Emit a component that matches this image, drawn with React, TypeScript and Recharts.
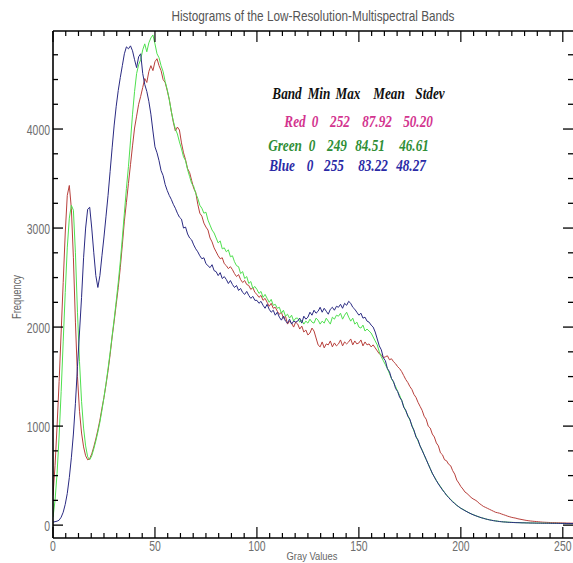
import React from 'react';
import { LineChart, Line, XAxis, YAxis } from 'recharts';

// Gray levels 0..255 (one histogram bin per level)
const grayLevels: number[] = Array.from({ length: 256 }, (_, i) => i);

// Pixel counts per gray level for each band
const redCounts = [
  300, 600, 1000, 1450, 1950, 2450, 2950, 3330, 3430, 3200, 2700, 2050, 1500, 1150, 930, 790, 700, 660, 670, 720,
  790, 870, 960, 1060, 1180, 1290, 1420, 1560, 1720, 1900, 2060, 2230, 2400, 2600, 2830, 3070, 3260, 3450, 3640, 3830,
  4010, 4130, 4250, 4330, 4420, 4510, 4470, 4580, 4640, 4590, 4680, 4710, 4640, 4590, 4500, 4470, 4390, 4300, 4180, 4070,
  3980, 4020, 3990, 3860, 3760, 3690, 3600, 3560, 3480, 3400, 3360, 3240, 3150, 3120, 3050, 3010, 2980, 2900, 2860, 2800,
  2760, 2720, 2690, 2700, 2640, 2620, 2590, 2610, 2580, 2540, 2510, 2530, 2480, 2450, 2470, 2430, 2420, 2380, 2400, 2350,
  2330, 2300, 2320, 2270, 2290, 2250, 2210, 2240, 2190, 2200, 2160, 2130, 2150, 2090, 2110, 2030, 2060, 2040, 2000, 2050,
  2030, 1980, 2010, 1950, 1970, 1920, 1940, 1990, 1960, 1890, 1820, 1800, 1850, 1790, 1830, 1820, 1860, 1800, 1840, 1810,
  1830, 1870, 1810, 1850, 1830, 1850, 1880, 1820, 1860, 1830, 1840, 1870, 1810, 1850, 1820, 1830, 1800, 1820, 1790, 1760,
  1730, 1720, 1690, 1700, 1710, 1670, 1680, 1650, 1630, 1600, 1580, 1550, 1510, 1470, 1440, 1400, 1370, 1320, 1290, 1240,
  1200, 1160, 1100, 1070, 1000, 980, 920, 890, 830, 800, 730, 710, 660, 650, 615, 600, 550, 515, 455, 425,
  390, 365, 335, 320, 300, 280, 265, 254, 240, 220, 205, 190, 180, 170, 160, 150, 140, 130, 125, 120,
  112, 105, 98, 90, 84, 78, 74, 70, 64, 60, 56, 52, 48, 45, 42, 40, 38, 36, 34, 32,
  30, 29, 28, 27, 26, 25, 25, 24, 24, 23, 22, 22, 21, 21, 20, 20,
];

const greenCounts = [
  80, 250, 520, 900, 1350, 1850, 2350, 2800, 3100, 3230, 3180, 2750, 2150, 1650, 1250, 980, 800, 690, 660, 700,
  770, 850, 940, 1040, 1160, 1290, 1430, 1580, 1740, 1910, 2080, 2260, 2450, 2660, 2900, 3150, 3400, 3620, 3880, 4150,
  4380, 4560, 4650, 4700, 4800, 4860, 4780, 4870, 4920, 4950, 4860, 4760, 4720, 4640, 4580, 4480, 4400, 4300, 4180, 4080,
  4000, 3950, 3870, 3800, 3720, 3680, 3590, 3520, 3450, 3420, 3350, 3300, 3230, 3200, 3150, 3160, 3080, 3030, 2980, 2950,
  2900, 2850, 2870, 2790, 2800, 2760, 2780, 2710, 2720, 2660, 2620, 2610, 2540, 2560, 2490, 2510, 2440, 2460, 2390, 2410,
  2380, 2340, 2360, 2300, 2330, 2290, 2250, 2280, 2220, 2230, 2190, 2200, 2140, 2170, 2110, 2130, 2090, 2120, 2060, 2090,
  2090, 2050, 2070, 2030, 2060, 2040, 2080, 2050, 2040, 2090, 2070, 2030, 2060, 2040, 2090, 2060, 2030, 2100, 2080, 2120,
  2110, 2140, 2080, 2120, 2150, 2100, 2060, 2090, 2030, 2050, 2000, 1990, 2020, 1960, 1980, 1960, 1940, 1900, 1860, 1820,
  1750, 1700, 1660, 1620, 1580, 1530, 1480, 1440, 1400, 1350, 1310, 1260, 1200, 1150, 1110, 1060, 1010, 950, 900, 850,
  800, 760, 710, 660, 620, 570, 520, 490, 450, 420, 390, 360, 330, 305, 280, 260, 240, 220, 200, 185,
  170, 160, 148, 136, 125, 115, 106, 98, 90, 82, 75, 70, 64, 58, 54, 50, 46, 43, 40, 37,
  35, 33, 32, 30, 29, 28, 27, 26, 25, 25, 24, 24, 23, 23, 22, 22, 21, 21, 21, 20,
  20, 20, 19, 19, 19, 18, 18, 18, 18, 17, 17, 17, 16, 16, 16, 15,
];

const blueCounts = [
  30, 35, 40, 50, 80, 130, 210, 320, 480, 680, 920, 1230, 1600, 1950, 2300, 2700, 3000, 3190, 3210, 3000,
  2750, 2520, 2400, 2520, 2720, 2910, 3120, 3330, 3570, 3810, 4040, 4230, 4390, 4520, 4640, 4760, 4830, 4810, 4840, 4790,
  4700, 4620, 4730, 4760, 4560, 4450, 4380, 4280, 4150, 3980, 3820, 3760, 3680, 3580, 3530, 3440, 3380, 3330, 3290, 3240,
  3200, 3150, 3110, 3090, 3000, 3010, 2940, 2900, 2880, 2830, 2790, 2760, 2720, 2690, 2700, 2640, 2620, 2600, 2630, 2570,
  2560, 2520, 2550, 2490, 2510, 2480, 2440, 2470, 2430, 2400, 2420, 2370, 2390, 2350, 2330, 2360, 2320, 2290, 2310, 2270,
  2270, 2240, 2260, 2220, 2190, 2230, 2180, 2150, 2170, 2120, 2150, 2100, 2070, 2110, 2060, 2040, 2080, 2030, 2060, 2050,
  2060, 2090, 2040, 2110, 2080, 2100, 2150, 2120, 2170, 2140, 2160, 2200, 2150, 2190, 2160, 2130, 2180, 2200, 2170, 2210,
  2200, 2230, 2190, 2240, 2220, 2260, 2240, 2200, 2180, 2150, 2120, 2140, 2090, 2100, 2060, 2050, 2020, 2000, 1950, 1880,
  1810, 1770, 1690, 1660, 1580, 1550, 1480, 1450, 1380, 1350, 1290, 1260, 1190, 1160, 1100, 1070, 1000, 960, 890, 860,
  800, 755, 710, 665, 615, 570, 525, 485, 450, 415, 385, 355, 330, 300, 280, 255, 235, 218, 200, 185,
  170, 158, 146, 135, 124, 114, 105, 97, 89, 82, 75, 69, 63, 58, 53, 49, 45, 42, 39, 36,
  34, 32, 31, 29, 28, 27, 26, 25, 25, 24, 23, 23, 22, 22, 21, 21, 21, 20, 20, 20,
  19, 19, 19, 19, 18, 18, 18, 18, 17, 17, 17, 17, 16, 16, 16, 16,
];

// Axis ticks
const xMajorTicks = [0, 50, 100, 150, 200, 250];
const yMajorTicks = [0, 1000, 2000, 3000, 4000, 5000];
const yLabelledTicks = [0, 1000, 2000, 3000, 4000];
const xMinorDivisions = 8;
const yMinorDivisions = 4;

// Band statistics table
const statHeaders = ['Band', 'Min', 'Max', 'Mean', 'Stdev'];
const statBands = ['Red', 'Green', 'Blue'];
const statMin = ['0', '0', '0'];
const statMax = ['252', '249', '255'];
const statMean = ['87.92', '84.51', '83.22'];
const statStdev = ['50.20', '46.61', '48.27'];

const X_DOMAIN: [number, number] = [0, 255];
const Y_DOMAIN: [number, number] = [-130, 4990];

function subdivide(majors: number[], parts: number, max: number): number[] {
  const out: number[] = [];
  for (let i = 0; i < majors.length - 1; i++) {
    const step = (majors[i + 1] - majors[i]) / parts;
    for (let k = 0; k < parts; k++) out.push(majors[i] + k * step);
  }
  const last = majors[majors.length - 1];
  if (last <= max) out.push(last);
  return out.filter((v) => v <= max);
}

const xTicks = subdivide(xMajorTicks, xMinorDivisions, 255);
const yTicks = subdivide(yMajorTicks, yMinorDivisions, 4990);

const rows = grayLevels.map((g, i) => ({
  gray: g,
  red: redCounts[i],
  green: greenCounts[i],
  blue: blueCounts[i],
}));

const AXIS_COLOR = '#000';
const LABEL_COLOR = '#6e6e6e';
const SANS = '"Liberation Sans", Arial, sans-serif';
const SERIF = '"Liberation Serif", "Times New Roman", serif';

const isMajorX = (v: number) => xMajorTicks.includes(v);
const isMajorY = (v: number) => yMajorTicks.includes(v);

// Tall, narrow digits in the style of a vector plotting font
function TickText({ x, y, anchor, children }: any) {
  return (
    <text
      transform={`translate(${x},${y}) scale(0.72,1)`}
      textAnchor={anchor}
      fontFamily={SANS}
      fontSize={14.5}
      fill={LABEL_COLOR}
    >
      {children}
    </text>
  );
}

const BottomTick = (props: any) => {
  const { x, y, payload } = props;
  const v = payload.value;
  const major = isMajorX(v);
  return (
    <g>
      <line x1={x} x2={x} y1={y} y2={y - (major ? 11 : 5)} stroke={AXIS_COLOR} strokeWidth={1.2} />
      {major && (
        <TickText x={x} y={y + 13} anchor="middle">
          {v}
        </TickText>
      )}
    </g>
  );
};

const TopTick = (props: any) => {
  const { x, y, payload } = props;
  const major = isMajorX(payload.value);
  return <line x1={x} x2={x} y1={y} y2={y + (major ? 11 : 5)} stroke={AXIS_COLOR} strokeWidth={1.2} />;
};

const LeftTick = (props: any) => {
  const { x, y, payload } = props;
  const v = payload.value;
  const major = isMajorY(v);
  return (
    <g>
      <line x1={x} x2={x + (major ? 10 : 5)} y1={y} y2={y} stroke={AXIS_COLOR} strokeWidth={1.3} />
      {yLabelledTicks.includes(v) && (
        <TickText x={x - 3} y={y + 5.5} anchor="end">
          {v}
        </TickText>
      )}
    </g>
  );
};

const RightTick = (props: any) => {
  const { x, y, payload } = props;
  const major = isMajorY(payload.value);
  return <line x1={x} x2={x - (major ? 10 : 5)} y1={y} y2={y} stroke={AXIS_COLOR} strokeWidth={1.3} />;
};

// Per-row layout of the statistics table
const headerX = [287, 319, 348, 389, 430];
const headerY = 99;
const rowY = [127, 151, 171];
const bandLabelX = [295, 285, 282];
const valueX = [
  [315, 340, 377, 418],
  [312, 337, 370, 414],
  [310, 334, 373, 411],
];
const rowColors = ['#d3348f', '#2f8e36', '#2a2aa6'];

function TableText({ x, y, fill, children }: any) {
  return (
    <text
      transform={`translate(${x},${y}) scale(0.8,1)`}
      textAnchor="middle"
      fontFamily={SERIF}
      fontWeight="bold"
      fontStyle="italic"
      fontSize={16.5}
      fill={fill}
    >
      {children}
    </text>
  );
}

export default function App() {
  return (
    <div style={{ position: 'absolute', left: 0, top: 0, width: 573, height: 563, background: '#fff' }}>
      <LineChart
        width={573}
        height={563}
        data={rows}
        margin={{ top: 30, right: -1, bottom: 24, left: 52 }}
      >
        <XAxis
          xAxisId="bottom"
          dataKey="gray"
          type="number"
          domain={X_DOMAIN}
          allowDataOverflow
          ticks={xTicks}
          interval={0}
          height={1}
          tickSize={0}
          tickMargin={0}
          tickLine={false}
          tick={<BottomTick />}
          axisLine={{ stroke: AXIS_COLOR, strokeWidth: 1.6 }}
        />
        <XAxis
          xAxisId="top"
          orientation="top"
          dataKey="gray"
          type="number"
          domain={X_DOMAIN}
          allowDataOverflow
          ticks={xTicks}
          interval={0}
          height={1}
          tickSize={0}
          tickMargin={0}
          tickLine={false}
          tick={<TopTick />}
          axisLine={{ stroke: AXIS_COLOR, strokeWidth: 1.6 }}
        />
        <YAxis
          yAxisId="left"
          type="number"
          domain={Y_DOMAIN}
          allowDataOverflow
          ticks={yTicks}
          interval={0}
          width={1}
          tickSize={0}
          tickMargin={0}
          tickLine={false}
          tick={<LeftTick />}
          axisLine={{ stroke: AXIS_COLOR, strokeWidth: 1.6 }}
        />
        <YAxis
          yAxisId="right"
          orientation="right"
          type="number"
          domain={Y_DOMAIN}
          allowDataOverflow
          ticks={yTicks}
          interval={0}
          width={1}
          tickSize={0}
          tickMargin={0}
          tickLine={false}
          tick={<RightTick />}
          axisLine={false}
        />
        <Line xAxisId="bottom" yAxisId="left" type="linear" dataKey="red" stroke="#b8403c" strokeWidth={1} dot={false} isAnimationActive={false} />
        <Line xAxisId="bottom" yAxisId="left" type="linear" dataKey="green" stroke="#4fe04f" strokeWidth={1} dot={false} isAnimationActive={false} />
        <Line xAxisId="bottom" yAxisId="left" type="linear" dataKey="blue" stroke="#2a2a82" strokeWidth={1} dot={false} isAnimationActive={false} />
      </LineChart>

      <svg
        width={573}
        height={563}
        style={{ position: 'absolute', left: 0, top: 0, pointerEvents: 'none' }}
      >
        <text x={313} y={21} textAnchor="middle" fontFamily={SANS} fontSize={14} fill="#555" textLength={283} lengthAdjust="spacingAndGlyphs">
          Histograms of the Low-Resolution-Multispectral Bands
        </text>
        <text x={312} y={560} textAnchor="middle" fontFamily={SANS} fontSize={11.5} fill="#666" textLength={51} lengthAdjust="spacingAndGlyphs">
          Gray Values
        </text>
        <text
          transform="translate(21,297) rotate(-90)"
          textAnchor="middle"
          fontFamily={SANS}
          fontSize={12}
          fill="#666"
          textLength={44}
          lengthAdjust="spacingAndGlyphs"
        >
          Frequency
        </text>

        {statHeaders.map((h, i) => (
          <TableText key={h} x={headerX[i]} y={headerY} fill="#111">
            {h}
          </TableText>
        ))}
        {statBands.map((band, r) => {
          const values = [statMin[r], statMax[r], statMean[r], statStdev[r]];
          return (
            <g key={band}>
              <TableText x={bandLabelX[r]} y={rowY[r]} fill={rowColors[r]}>
                {band}
              </TableText>
              {values.map((v, c) => (
                <TableText key={c} x={valueX[r][c]} y={rowY[r]} fill={rowColors[r]}>
                  {v}
                </TableText>
              ))}
            </g>
          );
        })}
      </svg>
    </div>
  );
}
